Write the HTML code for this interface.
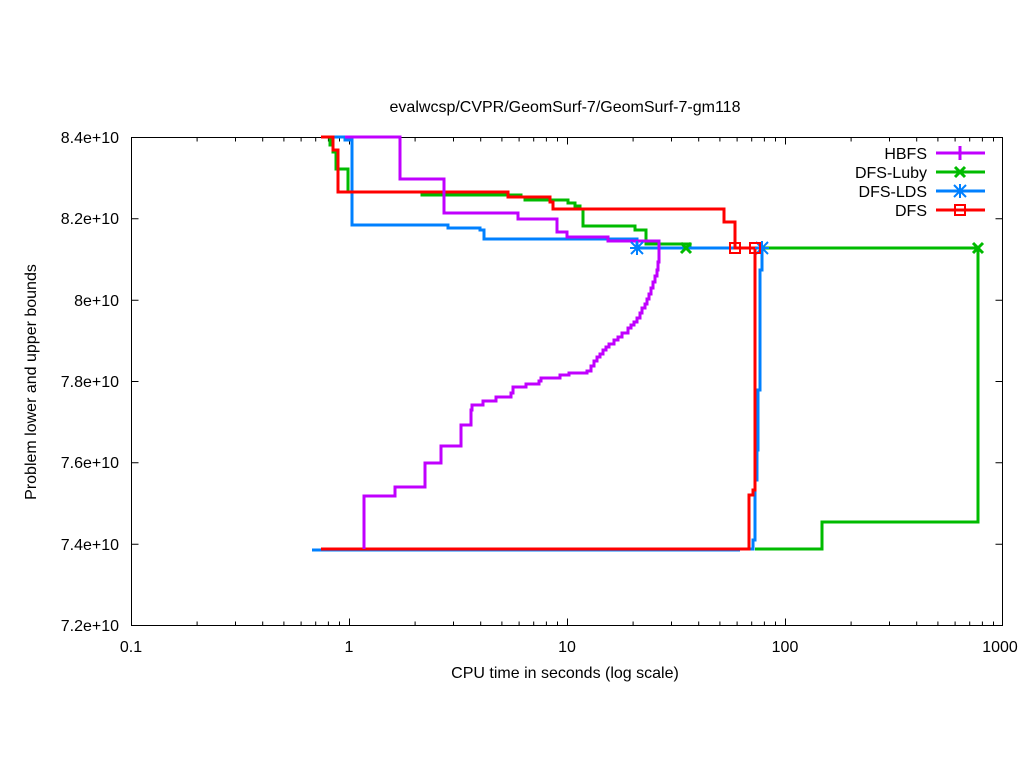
<!DOCTYPE html>
<html><head><meta charset="utf-8"><style>
html,body{margin:0;padding:0;background:#fff;}
svg{display:block;font-family:"Liberation Sans",sans-serif;}
</style></head><body>
<svg width="1024" height="768" viewBox="0 0 1024 768" xmlns="http://www.w3.org/2000/svg">
<rect width="1024" height="768" fill="#fff"/>
<text x="565" y="112" font-size="16" text-anchor="middle">evalwcsp/CVPR/GeomSurf-7/GeomSurf-7-gm118</text>
<g stroke="#000" stroke-width="1" fill="none">
<rect x="131.5" y="137.5" width="871" height="488"/>
<path d="M131.5,137.5h7M131.5,218.8h7M131.5,300.2h7M131.5,381.5h7M131.5,462.8h7M131.5,544.2h7M131.5,625.5h7
M1002.5,137.5h-7M1002.5,218.8h-7M1002.5,300.2h-7M1002.5,381.5h-7M1002.5,462.8h-7M1002.5,544.2h-7M1002.5,625.5h-7"/>
<path d="
M349.5,625.5v-7M567.5,625.5v-7M785.5,625.5v-7
M349.5,137.5v7M567.5,137.5v7M785.5,137.5v7
M197.1,625.5v-4M235.5,625.5v-4M262.7,625.5v-4M283.9,625.5v-4M301.1,625.5v-4M315.7,625.5v-4M328.4,625.5v-4M339.5,625.5v-4
M415.1,625.5v-4M453.5,625.5v-4M480.7,625.5v-4M501.9,625.5v-4M519.1,625.5v-4M533.7,625.5v-4M546.4,625.5v-4M557.5,625.5v-4
M633.1,625.5v-4M671.5,625.5v-4M698.7,625.5v-4M719.9,625.5v-4M737.1,625.5v-4M751.7,625.5v-4M764.4,625.5v-4M775.5,625.5v-4
M851.1,625.5v-4M889.5,625.5v-4M916.7,625.5v-4M937.9,625.5v-4M955.1,625.5v-4M969.7,625.5v-4M982.4,625.5v-4M993.5,625.5v-4
M197.1,137.5v4M235.5,137.5v4M262.7,137.5v4M283.9,137.5v4M301.1,137.5v4M315.7,137.5v4M328.4,137.5v4M339.5,137.5v4
M415.1,137.5v4M453.5,137.5v4M480.7,137.5v4M501.9,137.5v4M519.1,137.5v4M533.7,137.5v4M546.4,137.5v4M557.5,137.5v4
M633.1,137.5v4M671.5,137.5v4M698.7,137.5v4M719.9,137.5v4M737.1,137.5v4M751.7,137.5v4M764.4,137.5v4M775.5,137.5v4
M851.1,137.5v4M889.5,137.5v4M916.7,137.5v4M937.9,137.5v4M955.1,137.5v4M969.7,137.5v4M982.4,137.5v4M993.5,137.5v4"/>
</g>
<g font-size="16" text-anchor="end">
<text x="119" y="143">8.4e+10</text>
<text x="119" y="224">8.2e+10</text>
<text x="119" y="306">8e+10</text>
<text x="119" y="387">7.8e+10</text>
<text x="119" y="468">7.6e+10</text>
<text x="119" y="550">7.4e+10</text>
<text x="119" y="631">7.2e+10</text>
</g>
<g font-size="16" text-anchor="middle">
<text x="131" y="652">0.1</text>
<text x="349" y="652">1</text>
<text x="567" y="652">10</text>
<text x="785" y="652">100</text>
<text x="1000" y="652">1000</text>
<text x="565" y="678">CPU time in seconds (log scale)</text>
<text transform="translate(36,382) rotate(-90)">Problem lower and upper bounds</text>
</g>
<g fill="none" stroke-width="3" stroke-linejoin="miter">
<path stroke="#00bb00" d="M325,137 H330 V145 H333 V152 H336 V169 H348 V192 H422 V195 H521 V197 H525 V200 H568 V203 H575 V206 H580 V209 H583 V226 H635 V230 H646 V244 H690 V248"/>
<path stroke="#00bb00" d="M755,549 H822 V522 H978 V248 H764"/>
<path stroke="#0080ff" d="M325,137 H345 V140 H352 V225 H448 V228 H480 V230 H484 V239 H637 V248 H762 V270 H760 V390 H758 V450 H757 V480 H755 V540 H753 V549 H725"/>
<path stroke="#0080ff" d="M312,550 H740"/>
<path stroke="#ff0000" d="M321,137 H333 V150 H338 V192 H508 V197 H550 V202 H553 V209 H724 V222 H735 V248 H755 V490 H753 V495 H749 V549 H321"/>
<path stroke="#c000ff" d="M345,137 H400 V179 H444 V213 H518 V219 H557 V232 H567 V237 H608 V241 H659 V262 H658 V270 H657 V276 H655 V282 H653 V288 H651 V294 H649 V299 H647 V304 H645 V308 H642 V313 H640 V318 H637 V322 H634 V325 H631 V328 H628 V333 H622 V337 H618 V340 H614 V344 H609 V347 H606 V350 H603 V354 H600 V357 H597 V361 H594 V366 H591 V371 H587 V373 H569 V375 H560 V378 H541 V381 H539 V384 H526 V387 H513 V393 H511 V397 H496 V401 H483 V405 H472 V410 H471 V425 H461 V446 H441 V463 H425 V487 H395 V496 H364 V549"/>
</g>
<g fill="none" stroke-width="2">
<path stroke="#0080ff" d="M631,242 l12,12 M643,242 l-12,12 M637,241 v14 M630,248 h14"/>
<path stroke="#0080ff" d="M756,242 l12,12 M768,242 l-12,12 M762,241 v14 M755,248 h14"/>
<path stroke="#00bb00" stroke-width="3" d="M681,243 l10,10 M691,243 l-10,10"/>
<path stroke="#00bb00" stroke-width="3" d="M973,243 l10,10 M983,243 l-10,10"/>
<rect stroke="#ff0000" x="730" y="243" width="10" height="10"/>
<rect stroke="#ff0000" x="750" y="243" width="10" height="10"/>
</g>
<g font-size="16" text-anchor="end">
<text x="927" y="159">HBFS</text>
<text x="927" y="178">DFS-Luby</text>
<text x="927" y="197">DFS-LDS</text>
<text x="927" y="216">DFS</text>
</g>
<g fill="none" stroke-width="3">
<path stroke="#c000ff" d="M936,153 H985 M960,146 v14"/>
<path stroke="#00bb00" d="M936,172 H985 M955,167 l10,10 M965,167 l-10,10"/>
<path stroke="#0080ff" d="M936,191 H985"/>
<path stroke="#0080ff" stroke-width="2" d="M954,185 l12,12 M966,185 l-12,12 M960,184 v14"/>
<path stroke="#ff0000" d="M936,210 H985"/>
<rect stroke="#ff0000" stroke-width="2" x="955" y="205" width="10" height="10" fill="none"/>
</g>
</svg>
</body></html>
